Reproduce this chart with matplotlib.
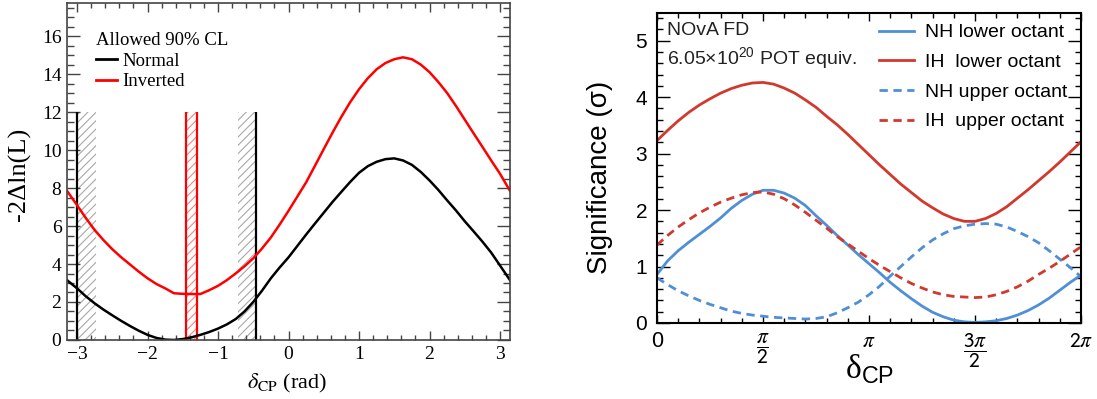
import numpy as np
import matplotlib.pyplot as plt
from matplotlib.lines import Line2D
from matplotlib.ticker import MultipleLocator

plt.rcParams['mathtext.fontset'] = 'custom'
plt.rcParams['mathtext.rm'] = 'Liberation Sans'
plt.rcParams['mathtext.it'] = 'Liberation Sans:italic'
plt.rcParams['mathtext.sf'] = 'Liberation Sans'
plt.rcParams['hatch.linewidth'] = 0.8

# ---- left panel: -2 Delta ln(L) vs delta_CP (rad) ----
dcp_rad = [-np.pi, -3.0, -2.875, -2.75, -2.625, -2.5, -2.375, -2.25, -2.125,
           -2.0, -1.875, -1.75, -1.625, -1.5, -1.375, -1.25, -1.125, -1.0,
           -0.875, -0.75, -0.625, -0.5, -0.375, -0.25, -0.125, 0.0, 0.125,
           0.25, 0.375, 0.5, 0.625, 0.75, 0.875, 1.0, 1.125, 1.25, 1.375,
           1.5, 1.625, 1.75, 1.875, 2.0, 2.125, 2.25, 2.375, 2.5, 2.625,
           2.75, 2.875, 3.0, np.pi]
lnl_normal = [3.15, 2.72, 2.30, 1.93, 1.60, 1.30, 1.01, 0.74, 0.49,
              0.27, 0.11, 0.02, 0.00, 0.05, 0.14, 0.27, 0.42, 0.60,
              0.82, 1.10, 1.50, 2.00, 2.60, 3.25, 3.82, 4.35, 4.95,
              5.55, 6.13, 6.70, 7.27, 7.80, 8.32, 8.80, 9.15, 9.38, 9.52,
              9.56, 9.45, 9.22, 8.85, 8.40, 7.90, 7.35, 6.82, 6.25, 5.72,
              5.18, 4.60, 3.92, 3.15]
lnl_inverted = [7.85, 7.10, 6.42, 5.79, 5.26, 4.78, 4.36, 3.98, 3.60,
                3.25, 2.95, 2.72, 2.46, 2.43, 2.42, 2.42, 2.62, 2.85,
                3.15, 3.50, 3.88, 4.30, 4.82, 5.40, 6.08, 6.80, 7.55,
                8.30, 9.17, 10.05, 10.92, 11.75, 12.52, 13.20, 13.78, 14.25, 14.58,
                14.78, 14.88, 14.78, 14.50, 14.10, 13.58, 13.00, 12.32, 11.60, 10.88,
                10.17, 9.45, 8.75, 7.85]

# 90% CL boundaries (rad) and hatched widths
normal_cl = [-3.0, -0.46]
normal_hatch = [(-3.0, -2.73), (-0.71, -0.46)]
inverted_cl = [-1.46, -1.30]
cl_top = 12

# ---- right panel: significance vs delta_CP (units of pi) ----
dcp_frac = [0.00, 0.05, 0.10, 0.15, 0.20, 0.25, 0.30, 0.35, 0.40, 0.45,
            0.50, 0.55, 0.60, 0.65, 0.70, 0.75, 0.80, 0.85, 0.90, 0.95,
            1.00, 1.05, 1.10, 1.15, 1.20, 1.25, 1.30, 1.35, 1.40, 1.45,
            1.50, 1.55, 1.60, 1.65, 1.70, 1.75, 1.80, 1.85, 1.90, 1.95, 2.00]
nh_lower = [0.86, 1.10, 1.28, 1.43, 1.57, 1.71, 1.86, 2.03, 2.17, 2.28,
            2.35, 2.35, 2.30, 2.21, 2.08, 1.90, 1.73, 1.55, 1.38, 1.21,
            1.05, 0.89, 0.72, 0.57, 0.43, 0.30, 0.19, 0.11, 0.05, 0.02,
            0.01, 0.02, 0.04, 0.08, 0.14, 0.22, 0.32, 0.44, 0.58, 0.72, 0.85]
ih_lower = [3.23, 3.41, 3.58, 3.73, 3.86, 3.97, 4.07, 4.15, 4.21, 4.25,
            4.26, 4.23, 4.16, 4.07, 3.95, 3.82, 3.66, 3.51, 3.34, 3.16,
            2.98, 2.80, 2.63, 2.46, 2.31, 2.16, 2.04, 1.93, 1.85, 1.80,
            1.80, 1.85, 1.94, 2.06, 2.21, 2.36, 2.52, 2.68, 2.85, 3.03, 3.21]
nh_upper = [0.80, 0.68, 0.57, 0.48, 0.40, 0.33, 0.27, 0.21, 0.17, 0.14,
            0.12, 0.10, 0.09, 0.08, 0.07, 0.08, 0.11, 0.18, 0.27, 0.37,
            0.50, 0.65, 0.83, 1.00, 1.17, 1.33, 1.47, 1.58, 1.67, 1.72,
            1.75, 1.76, 1.75, 1.70, 1.62, 1.53, 1.42, 1.28, 1.13, 0.98, 0.82]
ih_upper = [1.38, 1.55, 1.70, 1.83, 1.95, 2.05, 2.14, 2.21, 2.27, 2.31,
            2.32, 2.28, 2.20, 2.09, 1.96, 1.82, 1.68, 1.53, 1.40, 1.27,
            1.14, 1.02, 0.91, 0.80, 0.70, 0.62, 0.55, 0.50, 0.47, 0.46,
            0.45, 0.46, 0.50, 0.56, 0.64, 0.74, 0.86, 0.97, 1.09, 1.22, 1.35]

pi_ticks = [0, 0.5, 1.0, 1.5, 2.0]
pi_labels = ['0', r'$\dfrac{\pi}{\mathsf{2}}$', r'$\pi$',
             r'$\dfrac{\mathsf{3}\pi}{\mathsf{2}}$', r'$\mathsf{2}\pi$']

BLUE = '#4f8fd6'
RED = '#d2392d'
SERIF = 'Liberation Serif'
SANS = 'Liberation Sans'

fig = plt.figure(figsize=(10.97, 3.99), dpi=100)

# ================= left =================
ax1 = fig.add_axes([0.0611, 0.1479, 0.4038, 0.8446])
for x0, x1 in normal_hatch:
    ax1.fill_between([x0, x1], 0, cl_top, facecolor='none', edgecolor='#a8a8a8',
                     hatch='////', linewidth=0)
ax1.fill_between(inverted_cl, 0, cl_top, facecolor='none', edgecolor='#ff8080',
                 hatch='////', linewidth=0)
ax1.vlines(normal_cl, 0, cl_top, color='black', lw=1.6)
ax1.vlines(inverted_cl, 0, cl_top, color='red', lw=1.6)
ax1.plot(dcp_rad, lnl_normal, color='black', lw=1.8)
ax1.plot(dcp_rad, lnl_inverted, color='red', lw=1.8)

ax1.set_xlim(-np.pi, np.pi)
ax1.set_ylim(0, 17.74)
ax1.xaxis.set_major_locator(MultipleLocator(1))
ax1.xaxis.set_minor_locator(MultipleLocator(0.2))
ax1.yaxis.set_major_locator(MultipleLocator(2))
ax1.yaxis.set_minor_locator(MultipleLocator(0.5))
ax1.tick_params(which='both', direction='in', top=True, right=True, color='#444444')
ax1.tick_params(axis='y', which='major', length=9.5, width=1)
ax1.tick_params(axis='y', which='minor', length=5, width=1)
ax1.tick_params(axis='x', which='major', length=6.5, width=1)
ax1.tick_params(axis='x', which='minor', length=3.5, width=1)
ax1.tick_params(labelsize=14, pad=4)
for lbl in ax1.get_xticklabels() + ax1.get_yticklabels():
    lbl.set_fontfamily(SERIF)
for s in ax1.spines.values():
    s.set_color('#444444')
    s.set_linewidth(1.2)

ax1.set_ylabel('-2\u0394ln(L)', fontfamily=SERIF, fontsize=19, va='center')
ax1.yaxis.set_label_coords(-0.108, 0.49)
ax1.set_xlabel(r'$\delta_{\rm CP}$ (rad)', fontfamily=SERIF, fontsize=16,
               va='center', math_fontfamily='stix')
ax1.xaxis.set_label_coords(0.497, -0.128)

h1 = [Line2D([], [], color='black', lw=2), Line2D([], [], color='red', lw=2)]
ax1.legend(h1, ['Normal', 'Inverted'], title='Allowed 90% CL',
           loc='upper left', bbox_to_anchor=(0.066, 0.915), frameon=False,
           prop={'family': SERIF, 'size': 13.5},
           title_fontproperties={'family': SERIF, 'size': 13.5},
           alignment='left', handlelength=1.1, handletextpad=0.3,
           labelspacing=0.2, borderpad=0, borderaxespad=0)

# ================= right =================
ax2 = fig.add_axes([0.5989, 0.1905, 0.3865, 0.777])
x_rad = np.pi * np.array(dcp_frac)
ax2.plot(x_rad, nh_lower, color=BLUE, lw=2, label='NH lower octant')
ax2.plot(x_rad, ih_lower, color=RED, lw=2, label='IH  lower octant')
ax2.plot(x_rad, nh_upper, color=BLUE, lw=2, ls=(0, (3, 2)), label='NH upper octant')
ax2.plot(x_rad, ih_upper, color=RED, lw=2, ls=(0, (3, 2)), label='IH  upper octant')

ax2.set_xlim(0, 2 * np.pi)
ax2.set_ylim(0, 5.49)
ax2.set_xticks(np.pi * np.array(pi_ticks))
ax2.set_xticklabels(pi_labels)
ax2.xaxis.set_minor_locator(MultipleLocator(np.pi / 10))
ax2.yaxis.set_major_locator(MultipleLocator(1))
ax2.yaxis.set_minor_locator(MultipleLocator(0.2))
ax2.tick_params(which='both', direction='in', top=True, right=True, width=1)
ax2.tick_params(axis='y', which='major', length=9.5, pad=7)
ax2.tick_params(axis='y', which='minor', length=4)
ax2.tick_params(axis='x', which='major', length=6, pad=6)
ax2.tick_params(axis='x', which='minor', length=3.5)
ax2.tick_params(labelsize=15)
for lbl in ax2.get_xticklabels():
    lbl.set_fontfamily(SANS)
    lbl.set_math_fontfamily('stix')
    lbl.set_fontsize(15.5)
for lbl in ax2.get_yticklabels():
    lbl.set_fontfamily(SANS)
for s in ax2.spines.values():
    s.set_linewidth(1.5)

ax2.set_ylabel('Significance (\u03c3)', fontfamily=SANS, fontsize=20, va='center')
ax2.yaxis.set_label_coords(-0.134, 0.47)
ax2.set_xlabel('\u03b4$_{\\mathrm{CP}}$', fontfamily=SERIF, fontsize=24, va='center')
ax2.xaxis.set_label_coords(0.502, -0.15)

ax2.text(0.024, 0.945, 'NOvA FD', transform=ax2.transAxes, fontfamily=SANS,
         fontsize=14, va='center', color='#222222')
ax2.text(0.024, 0.855, '6.05\u00d710$^{20}$ POT equiv.', transform=ax2.transAxes,
         fontfamily=SANS, fontsize=14, va='center', color='#222222')

ax2.legend(loc='upper left', bbox_to_anchor=(0.523, 0.965), frameon=False,
           prop={'family': SANS, 'size': 14}, handlelength=1.8,
           handletextpad=0.6, labelspacing=0.62, borderpad=0, borderaxespad=0)

fig.savefig('out.png', dpi=100)
